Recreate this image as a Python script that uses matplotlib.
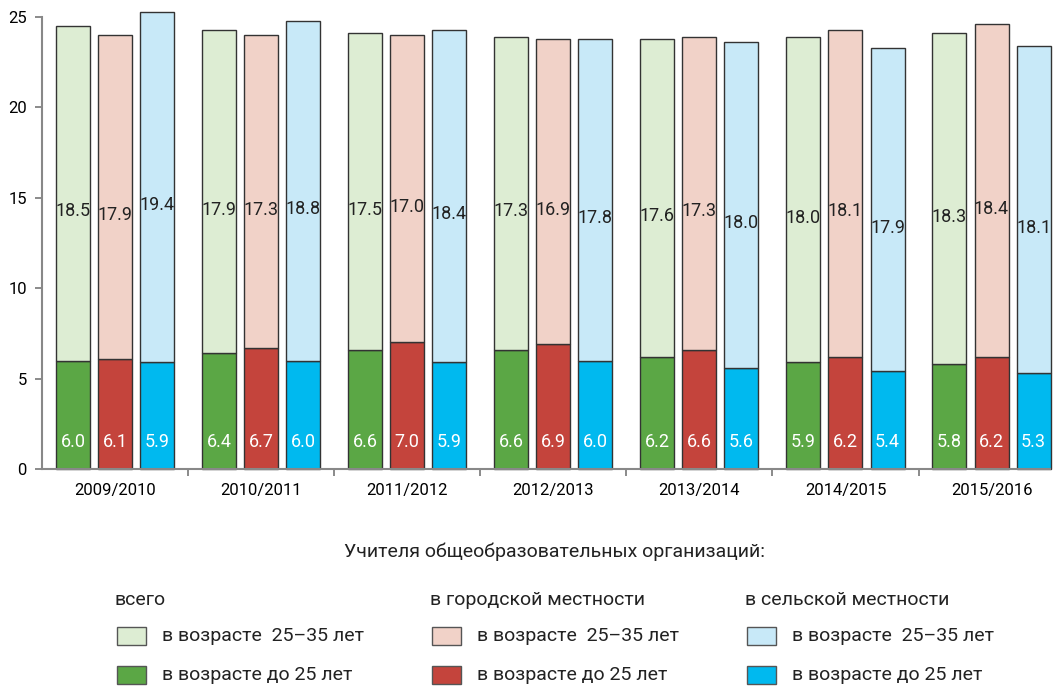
import matplotlib.pyplot as plt
import numpy as np
from matplotlib.patches import Rectangle

years = ["2009/2010", "2010/2011", "2011/2012", "2012/2013",
         "2013/2014", "2014/2015", "2015/2016"]

# teachers under 25 / aged 25-35, share in %
total_u25 = [6.0, 6.4, 6.6, 6.6, 6.2, 5.9, 5.8]
total_25_35 = [18.5, 17.9, 17.5, 17.3, 17.6, 18.0, 18.3]
urban_u25 = [6.1, 6.7, 7.0, 6.9, 6.6, 6.2, 6.2]
urban_25_35 = [17.9, 17.3, 17.0, 16.9, 17.3, 18.1, 18.4]
rural_u25 = [5.9, 6.0, 5.9, 6.0, 5.6, 5.4, 5.3]
rural_25_35 = [19.4, 18.8, 18.4, 17.8, 18.0, 17.9, 18.1]

FONT = ["Liberation Sans Narrow", "Roboto", "DejaVu Sans"]
plt.rcParams["font.family"] = FONT

series = [
    ("всего", total_u25, total_25_35, "#5ba745", "#ddedd3"),
    ("в городской местности", urban_u25, urban_25_35, "#c4443c", "#f1d2c8"),
    ("в сельской местности", rural_u25, rural_25_35, "#00b9ef", "#c8e9f8"),
]

fig = plt.figure(figsize=(10.56, 6.88), dpi=100)
ax = fig.add_axes([0.0398, 0.3183, 0.9545, 0.6570])

x = np.arange(len(years))
width = 0.233
step = 0.288
for k, (_, low, high, dark, light) in enumerate(series):
    pos = x + (k - 1) * step
    ax.bar(pos, low, width, color=dark, edgecolor="#333333", linewidth=1.0,
           clip_on=False, zorder=2)
    ax.bar(pos, high, width, bottom=low, color=light, edgecolor="#333333",
           linewidth=1.0, clip_on=False, zorder=2)
    for p, lo, hi in zip(pos, low, high):
        ax.text(p, 1.5, f"{lo:.1f}", ha="center", va="center", color="white",
                fontsize=13)
        ax.text(p, lo + hi / 2 - 1.0, f"{hi:.1f}", ha="center", va="center",
                color="#222222", fontsize=13)

ax.set_xlim(-0.5, 6.40)
ax.set_ylim(0, 25)
ax.set_yticks([0, 5, 10, 15, 20, 25])
ax.set_xticks(x)
ax.set_xticklabels(years)
ax.set_xticks(np.arange(0.5, 6.5, 1.0), minor=True)
ax.tick_params(axis="x", which="major", length=0, pad=10, labelsize=12)
ax.tick_params(axis="x", which="minor", length=5, color="#777777", width=1.2)
ax.tick_params(axis="y", length=5, color="#777777", width=1.2, labelsize=12,
               pad=6)
for s in ["top", "right"]:
    ax.spines[s].set_visible(False)
for s in ["left", "bottom"]:
    ax.spines[s].set_color("#888888")
    ax.spines[s].set_linewidth(1.5)

# legend drawn by hand in figure pixels
W, H = 1056, 688
fig.text(555 / W, 1 - 552 / H, "Учителя общеобразовательных организаций:",
         ha="center", va="center", fontsize=14, color="#222222")
col_x = [115, 430, 745]
for cx, (name, _, _, dark, light) in zip(col_x, series):
    fig.text(cx / W, 1 - 600 / H, name, ha="left", va="center", fontsize=14,
             color="#222222")
    for ry, col, lab in [(636, light, "в возрасте  25–35 лет"),
                         (675, dark, "в возрасте до 25 лет")]:
        fig.patches.append(Rectangle(((cx + 2) / W, 1 - (ry + 9) / H),
                                     29 / W, 18 / H, transform=fig.transFigure,
                                     facecolor=col, edgecolor="#555555",
                                     linewidth=1.0))
        fig.text((cx + 47) / W, 1 - ry / H, lab, ha="left", va="center",
                 fontsize=14, color="#222222")

fig.savefig("out.png", dpi=100)
